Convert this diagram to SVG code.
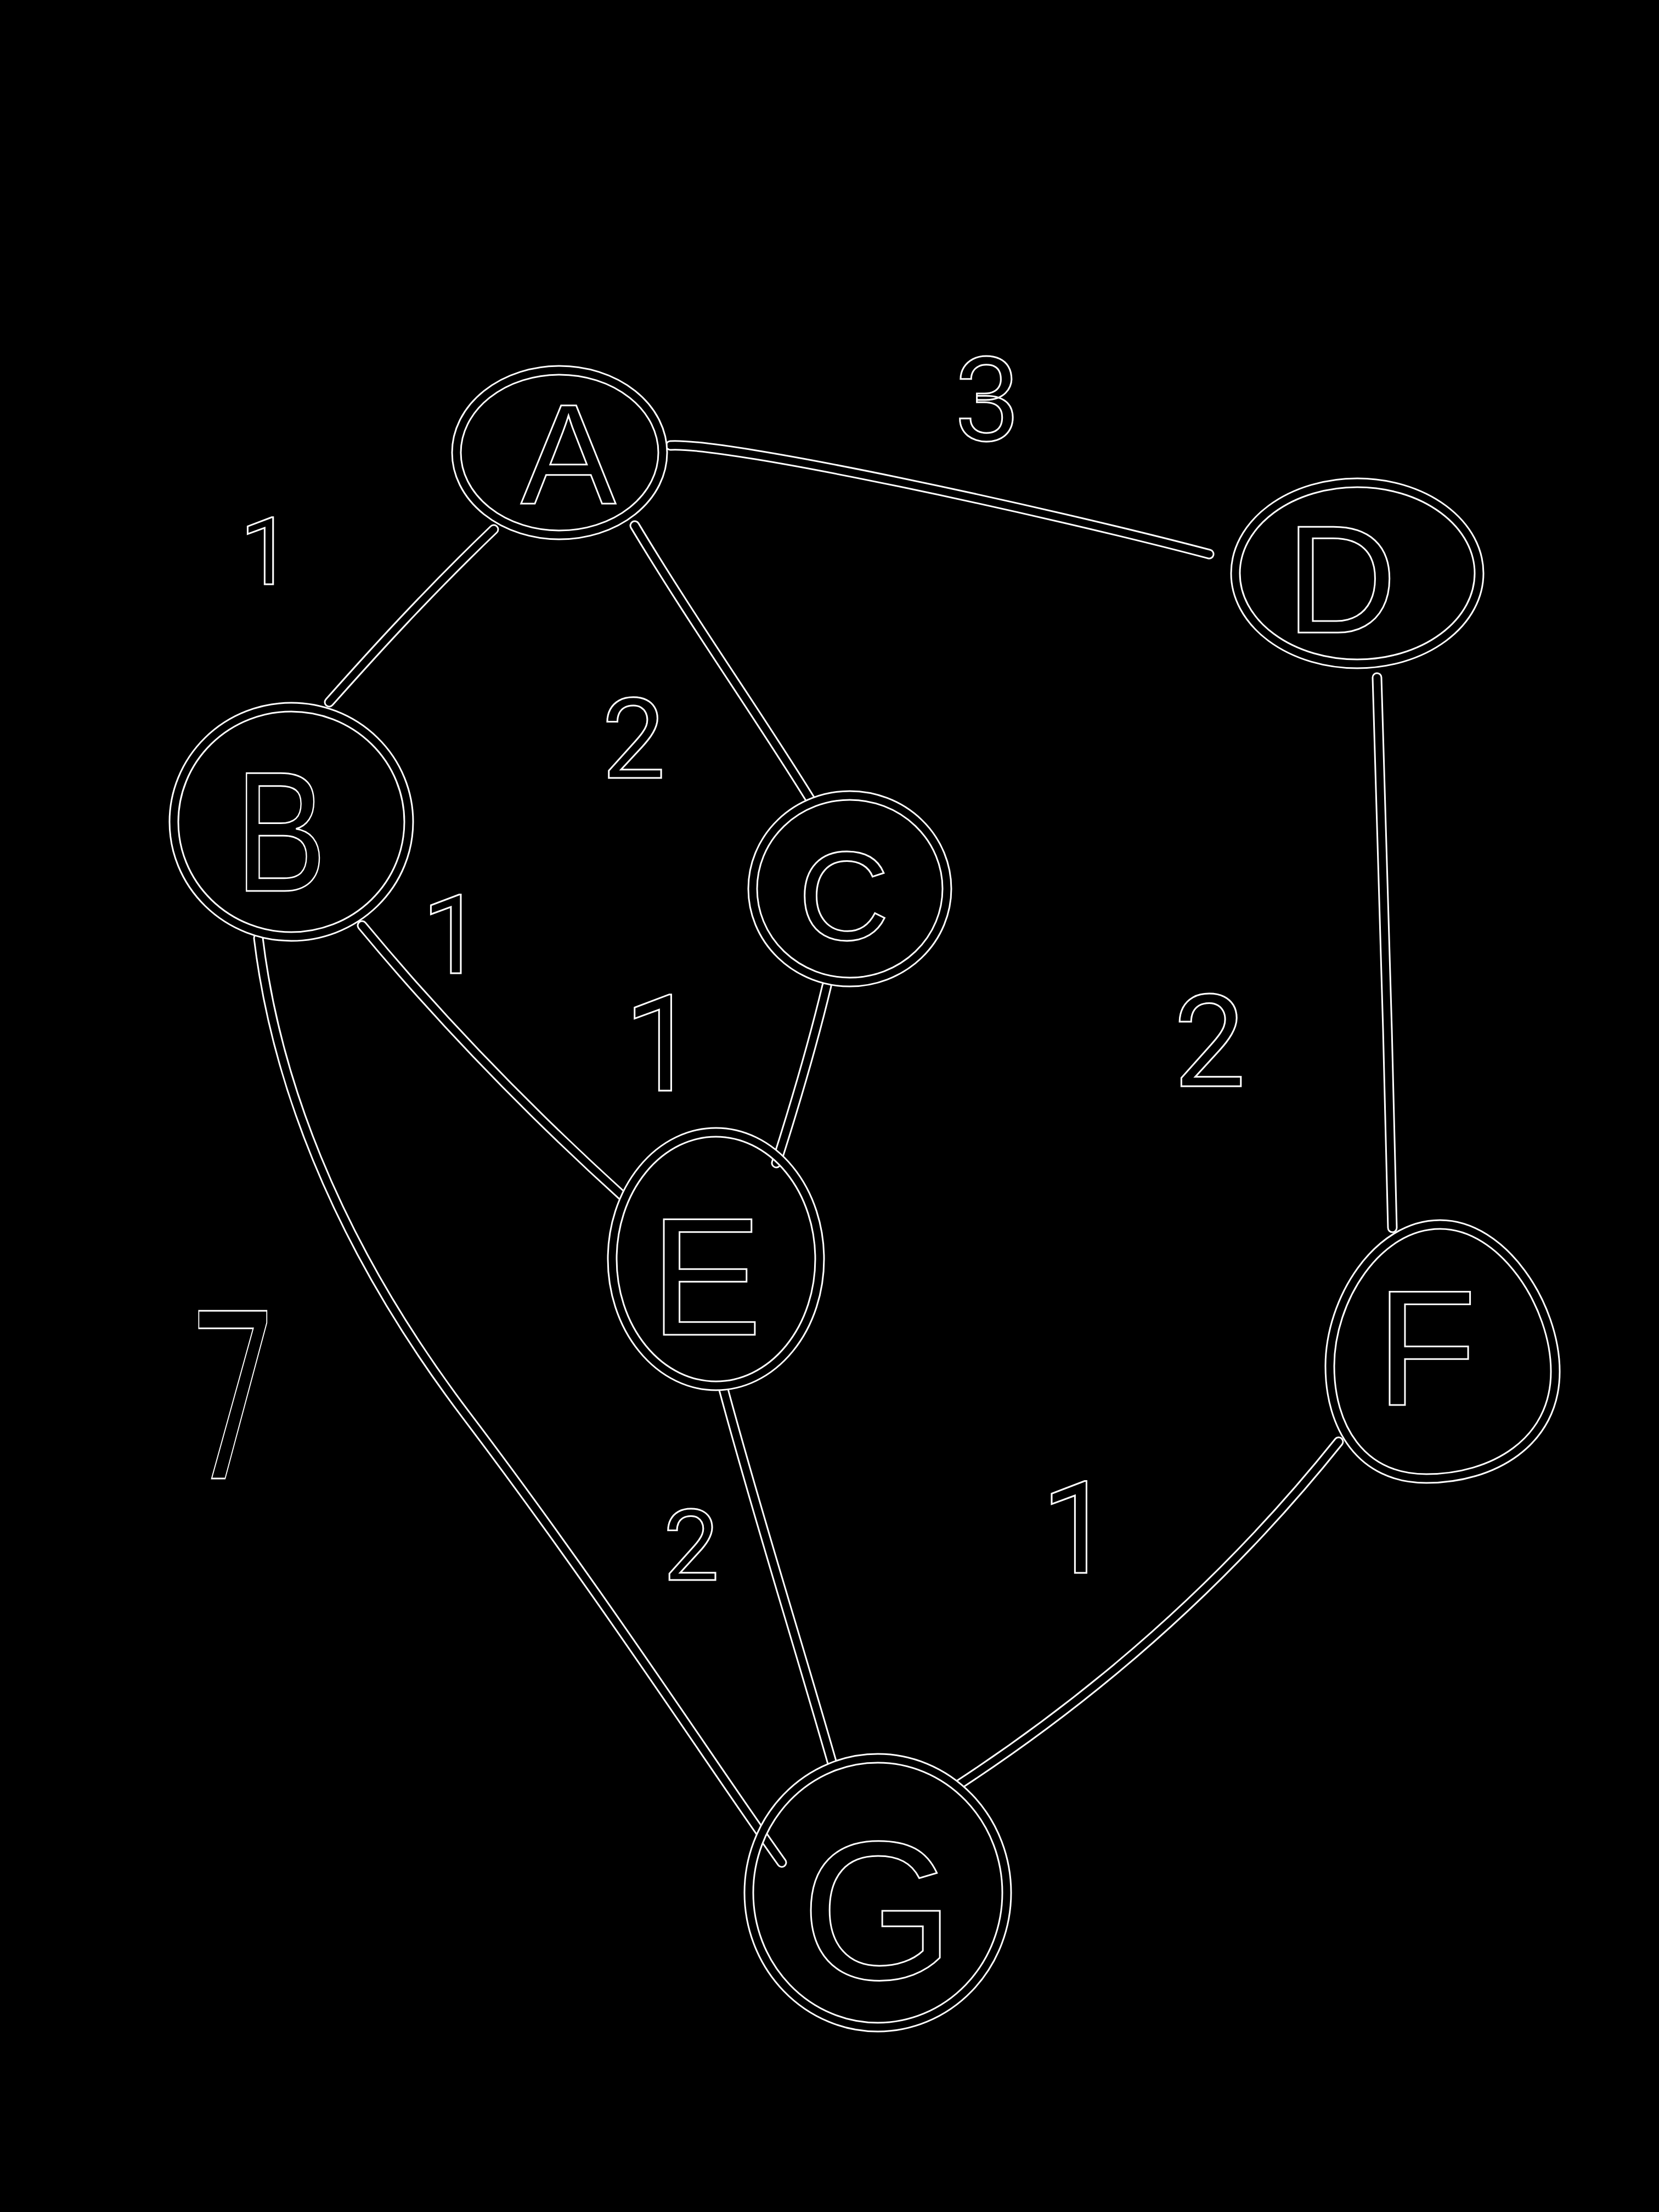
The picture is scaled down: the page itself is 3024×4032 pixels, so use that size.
<svg xmlns="http://www.w3.org/2000/svg" xmlns:xlink="http://www.w3.org/1999/xlink" width="3024" height="4032" viewBox="0 0 3024 4032">
<style>
.o{fill:none;stroke:#fff;stroke-width:19;stroke-linecap:round;stroke-linejoin:round}
.i{fill:none;stroke:#000;stroke-width:13;stroke-linecap:round;stroke-linejoin:round}
.lbl{font-family:"Liberation Sans",Arial,sans-serif;fill:#000;stroke:#fff;stroke-width:3;text-anchor:middle}
.num{font-family:Roboto,"Liberation Sans",sans-serif;fill:#000;stroke:#fff;stroke-width:3;text-anchor:middle}
</style>
<defs>
<path id="eAD" d="M1222,812 C1330,806 1900,930 2204,1010"/>
<path id="eAB" d="M900,965 C780,1080 680,1190 600,1280"/>
<path id="eAC" d="M1157,958 C1260,1130 1380,1300 1477,1457"/>
<path id="eBE" d="M660,1687 C820,1880 980,2040 1138,2183"/>
<path id="eCE" d="M1507,1797 C1480,1910 1450,2010 1415,2120"/>
<path id="eDF" d="M2510,1235 C2522,1600 2530,1900 2538,2238"/>
<path id="eEG" d="M1319,2533 C1380,2760 1450,2980 1517,3214"/>
<path id="eBG" d="M471,1710 C500,1950 600,2250 850,2580 S1300,3220 1425,3395"/>
<path id="eFG" d="M2440,2628 Q2150,2990 1748,3253"/>
</defs>
<rect x="0" y="0" width="3024" height="4032" fill="#000"/>
<g id="connectors">
<use href="#eAD" class="o"/><use href="#eAB" class="o"/><use href="#eAC" class="o"/>
<use href="#eBE" class="o"/><use href="#eCE" class="o"/><use href="#eDF" class="o"/>
<use href="#eEG" class="o"/><use href="#eBG" class="o"/><use href="#eFG" class="o"/>
<use href="#eAD" class="i"/><use href="#eAB" class="i"/><use href="#eAC" class="i"/>
<use href="#eBE" class="i"/><use href="#eCE" class="i"/><use href="#eDF" class="i"/>
<use href="#eEG" class="i"/><use href="#eBG" class="i"/><use href="#eFG" class="i"/>
</g>
<g id="node-A">
<ellipse class="o" cx="1020" cy="825" rx="188" ry="150"/>
<ellipse class="i" cx="1020" cy="825" rx="188" ry="150"/>
<text class="lbl" x="1036" y="918" font-size="260">A</text>
</g>
<g id="node-D">
<ellipse class="o" cx="2474" cy="1045" rx="222" ry="165"/>
<ellipse class="i" cx="2474" cy="1045" rx="222" ry="165"/>
<text class="lbl" x="2445" y="1153" font-size="280">D</text>
</g>
<g id="node-B">
<ellipse class="o" cx="531" cy="1498" rx="214" ry="209"/>
<ellipse class="i" cx="531" cy="1498" rx="214" ry="209"/>
<text class="lbl" x="512" y="1624" font-size="312" transform="translate(512,0) scale(0.8,1) translate(-512,0)">B</text>
</g>
<g id="node-C">
<ellipse class="o" cx="1549" cy="1620" rx="177" ry="170"/>
<ellipse class="i" cx="1549" cy="1620" rx="177" ry="170"/>
<text class="lbl" x="1538" y="1713" font-size="230">C</text>
</g>
<g id="node-E">
<ellipse class="o" cx="1305" cy="2295" rx="189" ry="231"/>
<ellipse class="i" cx="1305" cy="2295" rx="189" ry="231"/>
<text class="lbl" x="1287" y="2433" font-size="306">E</text>
</g>
<g id="node-F">
<path class="o" d="M2625,2232 C2740,2232 2835,2380 2835,2500 C2835,2630 2720,2695 2600,2695 C2480,2695 2424,2600 2424,2490 C2424,2370 2510,2232 2625,2232 Z"/>
<path class="i" d="M2625,2232 C2740,2232 2835,2380 2835,2500 C2835,2630 2720,2695 2600,2695 C2480,2695 2424,2600 2424,2490 C2424,2370 2510,2232 2625,2232 Z"/>
<text class="lbl" x="2600" y="2561" font-size="300">F</text>
</g>
<g id="node-G">
<ellipse class="o" cx="1600" cy="3450" rx="235" ry="245"/>
<ellipse class="i" cx="1600" cy="3450" rx="235" ry="245"/>
<text class="lbl" x="1600" y="3607" font-size="360">G</text>
</g>
<g id="weights">
<text class="num" x="1800" y="803" font-size="214">3</text>
<text class="num" x="485" y="1065" font-size="170">1</text>
<text class="num" x="1155" y="1418" font-size="205">2</text>
<text class="num" x="825" y="1774" font-size="200">1</text>
<text class="num" x="1205" y="1988" font-size="245">1</text>
<text class="num" x="2205" y="1980" font-size="233">2</text>
<text class="num" font-size="430" transform="translate(425,2695) scale(0.6,1)">7</text>
<text class="num" x="1260" y="2880" font-size="180">2</text>
<text class="num" x="1963" y="2867" font-size="233">1</text>
</g>
</svg>
